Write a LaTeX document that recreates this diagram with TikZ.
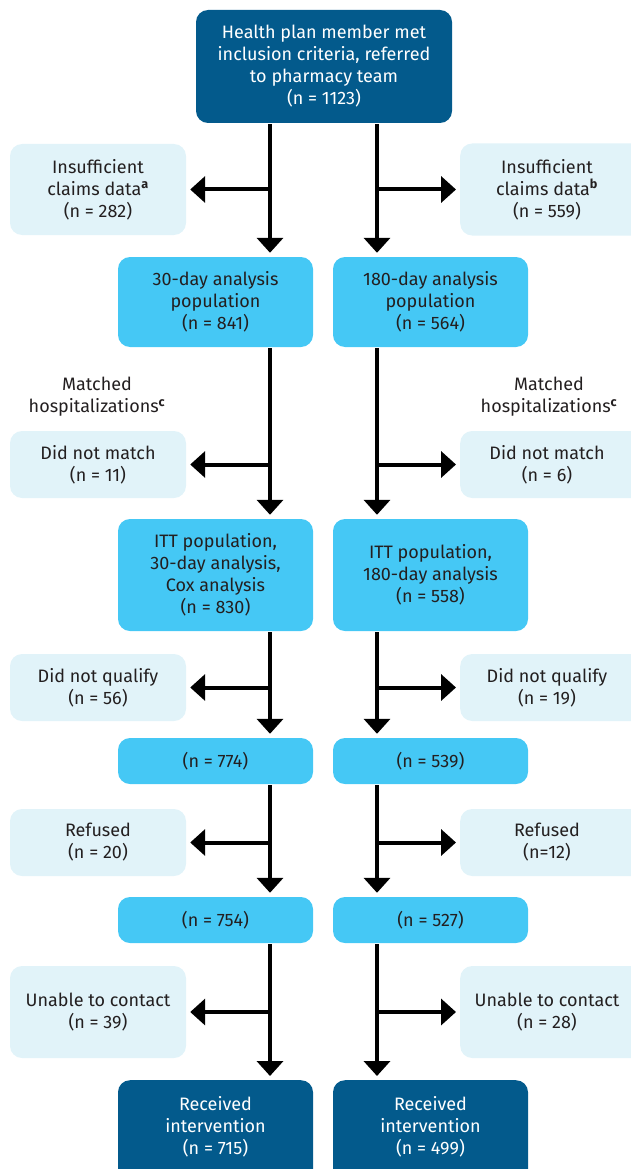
\documentclass[tikz,border=0pt]{standalone}
\usepackage{fontspec}
\setmainfont{Fira Sans}
\usetikzlibrary{arrows.meta}
\definecolor{dark}{HTML}{035A8C}
\definecolor{cyanb}{HTML}{45C8F5}
\definecolor{light}{HTML}{E1F3F9}
\definecolor{ink}{HTML}{231F20}
\newcommand{\boxfont}{\fontsize{18}{22}\selectfont}
\tikzset{
  base/.style={rounded corners=12pt, align=center, inner sep=0pt, font=\boxfont, text=ink},
  dbox/.style={base, fill=dark, text=white},
  cbox/.style={base, fill=cyanb},
  lbox/.style={base, fill=light},
  txt/.style={align=center, inner sep=0pt, font=\boxfont, text=ink},
  arr/.style={line width=4pt, -{Triangle[width=26pt,length=15pt]}, shorten >=4pt, shorten <=1pt}
}
\newcommand{\sups}[1]{\textsuperscript{\bfseries #1}}
\begin{document}
\begin{tikzpicture}[x=1pt,y=-1pt]
\useasboundingbox (0,0) rectangle (631,1169);
\coordinate (L) at (270,0);
\coordinate (R) at (377,0);

% top
\node[dbox, minimum width=256pt, minimum height=113pt] (top) at (324,66.5) {Health plan member met\\inclusion criteria, referred\\to pharmacy team\\(n = 1123)};

% insufficient
\node[lbox, minimum width=176pt, minimum height=91pt] (ins1) at (98,189.5) {Insufficient\\claims data\sups{a}\\(n = 282)};
\node[lbox, minimum width=200pt, minimum height=92pt, anchor=west] (ins2) at (460,189.5) {};
\node[txt] (ins2t) at (547,189.5) {Insufficient\\claims data\sups{b}\\(n = 559)};

% populations
\node[cbox, minimum width=195pt, minimum height=90pt] (p30) at (215.5,302) {30-day analysis\\population\\(n = 841)};
\node[cbox, minimum width=195pt, minimum height=90pt] (p180) at (430.5,302) {180-day analysis\\population\\(n = 564)};

% matched labels
\node[txt] (m1) at (97,397) {Matched\\hospitalizations\sups{c}};
\node[txt] (m2) at (549,397) {Matched\\hospitalizations\sups{c}};

% did not match
\node[lbox, minimum width=176pt, minimum height=67pt] (dnm1) at (98,464.5) {Did not match\\(n = 11)};
\node[lbox, minimum width=200pt, minimum height=67pt, anchor=west] (dnm2) at (460,464.5) {};
\node[txt] (dnm2t) at (547,464.5) {Did not match\\(n = 6)};

% ITT
\node[cbox, minimum width=195pt, minimum height=112pt] (itt1) at (215.5,575) {ITT population,\\30-day analysis,\\Cox analysis\\(n = 830)};
\node[cbox, minimum width=195pt, minimum height=112pt] (itt2) at (430.5,575) {ITT population,\\180-day analysis\\(n = 558)};

% did not qualify
\node[lbox, minimum width=176pt, minimum height=67pt] (dnq1) at (98,687.5) {Did not qualify\\(n = 56)};
\node[lbox, minimum width=200pt, minimum height=67pt, anchor=west] (dnq2) at (460,687.5) {};
\node[txt] (dnq2t) at (547,687.5) {Did not qualify\\(n = 19)};

% n 774 / 539
\node[cbox, minimum width=195pt, minimum height=46pt] (q1) at (215.5,761) {(n = 774)};
\node[cbox, minimum width=195pt, minimum height=46pt] (q2) at (430.5,761) {(n = 539)};

% refused
\node[lbox, minimum width=176pt, minimum height=67pt] (ref1) at (98,842.5) {Refused\\(n = 20)};
\node[lbox, minimum width=200pt, minimum height=67pt, anchor=west] (ref2) at (460,842.5) {};
\node[txt] (ref2t) at (547,842.5) {Refused\\(n=12)};

% n 754 / 527
\node[cbox, minimum width=195pt, minimum height=46pt] (a1) at (215.5,920) {(n = 754)};
\node[cbox, minimum width=195pt, minimum height=46pt] (a2) at (430.5,920) {(n = 527)};

% unable to contact
\node[lbox, minimum width=176pt, minimum height=92pt] (utc1) at (98,1012) {Unable to contact\\(n = 39)};
\node[lbox, minimum width=200pt, minimum height=92pt, anchor=west] (utc2) at (460,1012) {};
\node[txt] (utc2t) at (547,1012) {Unable to contact\\(n = 28)};

% received
\node[dbox, minimum width=195pt, minimum height=110pt, anchor=north] (rec1) at (215.5,1080) {};
\node[txt, text=white] (rec1t) at (215.5,1126.5) {Received\\intervention\\(n = 715)};
\node[dbox, minimum width=195pt, minimum height=110pt, anchor=north] (rec2) at (430.5,1080) {};
\node[txt, text=white] (rec2t) at (430.5,1126.5) {Received\\intervention\\(n = 499)};

% left column arrows
\draw[arr] (top.south -| L) -- (p30.north -| L);
\draw[arr] (L |- ins1) -- (ins1.east);
\draw[arr] (p30.south -| L) -- (itt1.north -| L);
\draw[arr] (L |- dnm1) -- (dnm1.east);
\draw[arr] (itt1.south -| L) -- (q1.north -| L);
\draw[arr] (L |- dnq1) -- (dnq1.east);
\draw[arr] (q1.south -| L) -- (a1.north -| L);
\draw[arr] (L |- ref1) -- (ref1.east);
\draw[arr] (a1.south -| L) -- (rec1.north -| L);
\draw[arr] (L |- utc1) -- (utc1.east);

% right column arrows
\draw[arr] (top.south -| R) -- (p180.north -| R);
\draw[arr] (R |- ins2) -- (ins2.west);
\draw[arr] (p180.south -| R) -- (itt2.north -| R);
\draw[arr] (R |- dnm2) -- (dnm2.west);
\draw[arr] (itt2.south -| R) -- (q2.north -| R);
\draw[arr] (R |- dnq2) -- (dnq2.west);
\draw[arr] (q2.south -| R) -- (a2.north -| R);
\draw[arr] (R |- ref2) -- (ref2.west);
\draw[arr] (a2.south -| R) -- (rec2.north -| R);
\draw[arr] (R |- utc2) -- (utc2.west);
\end{tikzpicture}
\end{document}
